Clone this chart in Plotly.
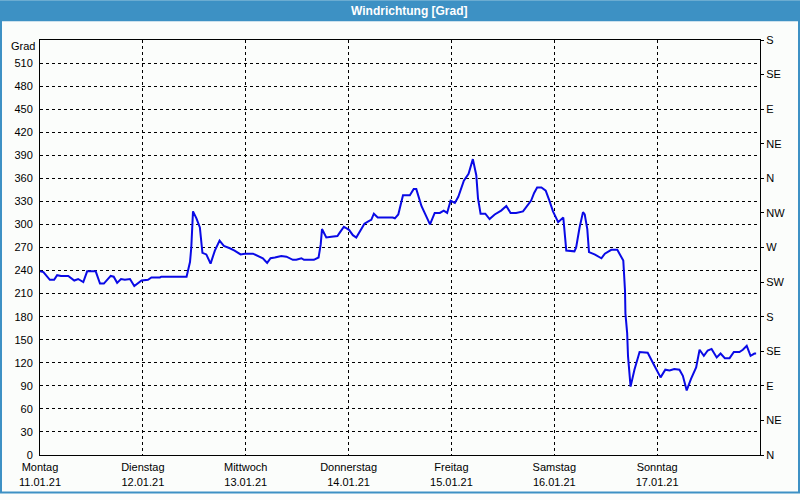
import plotly.graph_objects as go

# ---- data -------------------------------------------------------------
hours = [0, 0.8, 2.3, 3.3, 4.0, 4.9, 5.8, 6.6, 8.0, 8.9, 10.1, 11.0, 11.9, 13.0, 14.0, 14.9,
         16.5, 17.2, 18.0, 18.9, 19.8, 21.0, 22.0, 23.7, 25.2, 26.0, 28.0, 28.3, 34.2, 35.0,
         35.3, 35.7, 36.5, 37.3, 37.9, 38.8, 39.8, 40.8, 41.9, 42.9, 44.3, 45.4, 46.8, 47.8,
         49.7, 50.7, 52.0, 53.0, 53.8, 54.8, 56.3, 57.5, 59.0, 59.8, 61.0, 61.6, 63.9, 65.0,
         65.5, 65.8, 66.8, 68.0, 69.4, 69.9, 70.9, 72.1, 73.0, 73.8, 74.6, 75.7, 76.9, 77.3,
         77.9, 78.8, 80.0, 82.3, 82.8, 83.6, 84.7, 86.3, 87.2, 87.8, 89.0, 90.2, 91.0, 92.1,
         93.3, 94.2, 95.0, 95.8, 96.8, 97.6, 98.9, 100.0, 101.0, 101.8, 102.2, 102.8, 103.9,
         104.9, 106.1, 107.6, 108.8, 109.8, 111.1, 112.7, 113.9, 114.6, 115.3, 116.0, 117.0,
         118.0, 118.8, 119.7, 120.9, 122.1, 122.8, 124.7, 125.1, 125.9, 126.7, 127.1, 127.7,
         128.1, 129.4, 131.0, 131.8, 133.3, 134.7, 135.7, 136.1, 136.5, 136.6, 137.0, 137.2,
         137.8, 138.7, 139.9, 141.8, 143.0, 143.9, 144.8, 145.9, 146.9, 148.0, 149.2, 150.0,
         150.9, 151.9, 153.1, 153.9, 154.9, 155.8, 156.7, 157.9, 158.8, 159.8, 160.9, 161.9,
         163.2, 164.0, 164.9, 165.8, 166.7, 167.1]

degrees = [239, 238, 228, 228, 234, 233, 233, 233, 227, 229, 225, 239, 239, 239, 223, 223,
           233, 232, 224, 229, 228, 229, 220, 227, 228, 231, 231, 232, 232, 251,
           270, 317, 308, 296, 263, 261, 249, 266, 279, 272, 269, 266, 261, 262,
           262, 259, 256, 250, 256, 257, 259, 258, 254, 254, 256, 254, 254, 257,
           274, 294, 283, 284, 285, 289, 297, 293, 286, 283, 291, 301, 305, 306,
           314, 309, 309, 309, 308, 313, 338, 338, 346, 346, 324, 309, 300, 315,
           315, 318, 315, 331, 328, 336, 357, 366, 385, 364, 334, 314, 314,
           307, 313, 318, 324, 315, 315, 317, 325, 331, 341, 348, 348,
           344, 332, 317, 303, 309, 266, 265, 270, 296, 316, 313, 294,
           264, 261, 256, 262, 267, 267, 257, 253, 214, 184, 159, 129,
           89, 111, 134, 133, 120, 111, 101, 111, 110, 112, 111, 103,
           84, 99, 114, 137, 129, 136, 138, 127, 132, 126, 126, 134,
           134, 137, 142, 129, 132, 132]

day_names = ["Montag", "Dienstag", "Mittwoch", "Donnerstag", "Freitag", "Samstag", "Sonntag", ""]
day_dates = ["11.01.21", "12.01.21", "13.01.21", "14.01.21", "15.01.21", "16.01.21", "17.01.21", ""]
day_hours = [0, 24, 48, 72, 96, 120, 144, 168]

grad_ticks = list(range(0, 511, 30))
compass_vals = list(range(0, 541, 45))
compass_labels = ["N", "NE", "E", "SE", "S", "SW", "W", "NW", "N", "NE", "E", "SE", "S"]

title_text = "Windrichtung [Grad]"
unit_text = "Grad"

# ---- figure -----------------------------------------------------------
W, H = 800, 500
L, R, T, B = 40, 40, 40, 39
PW, PH = W - L - R, H - T - B


def px(x):
    return (x - L) / PW


def py(y):
    return (H - B - y) / PH


FONT = "Liberation Sans"
BG = "#fbfdfb"
BLUE_BAR = "#3d91c4"

fig = go.Figure()
fig.add_trace(go.Scatter(x=hours, y=degrees, mode="lines",
                         line=dict(color="#0a0ae6", width=2),
                         showlegend=False, hoverinfo="x+y"))
fig.add_trace(go.Scatter(x=[0], y=[0], yaxis="y2", mode="lines",
                         line=dict(width=0), showlegend=False, hoverinfo="skip"))

ticktext = [f"{n}<br>{d}" if n else "" for n, d in zip(day_names, day_dates)]

fig.update_layout(
    width=W, height=H,
    margin=dict(l=L, r=R, t=T, b=B, pad=0),
    paper_bgcolor=BG, plot_bgcolor=BG,
    font=dict(family=FONT, size=11, color="black"),
    xaxis=dict(range=[0, 168], tickmode="array", tickvals=day_hours, ticktext=ticktext,
               showgrid=True, gridcolor="black", gridwidth=1, griddash="3px,3px",
               showline=True, linecolor="black", linewidth=1, mirror=True,
               ticks="", zeroline=False, ticklabelstandoff=2,
               tickfont=dict(family=FONT, size=11)),
    yaxis=dict(range=[0, 540], tickmode="array", tickvals=grad_ticks,
               showgrid=True, gridcolor="black", gridwidth=1, griddash="3px,3px",
               showline=True, linecolor="black", linewidth=1, mirror=True,
               ticks="", zeroline=False, ticklabelstandoff=4,
               tickfont=dict(family=FONT, size=11)),
    yaxis2=dict(range=[0, 540], overlaying="y", side="right", tickmode="array",
                tickvals=compass_vals, ticktext=compass_labels,
                showgrid=False, zeroline=False, showline=False,
                ticks="outside", ticklen=3, tickcolor="black", tickwidth=1,
                ticklabelstandoff=0,
                tickfont=dict(family=FONT, size=11)),
    shapes=[
        dict(type="rect", xref="paper", yref="paper", layer="below",
             x0=px(0), x1=px(W), y0=py(21), y1=py(0),
             fillcolor=BLUE_BAR, line=dict(width=0)),
        dict(type="rect", xref="paper", yref="paper", layer="above",
             x0=px(1), x1=px(W - 1), y0=py(H - 1), y1=py(1),
             fillcolor="rgba(0,0,0,0)", line=dict(color=BLUE_BAR, width=2)),
    ],
    annotations=[
        dict(text=f"<b>{title_text}</b>", xref="paper", yref="paper",
             x=px(410), y=py(10.5), showarrow=False, xanchor="center", yanchor="middle",
             font=dict(family=FONT, size=12, color="white")),
        dict(text=unit_text, xref="paper", yref="paper",
             x=px(37), y=py(46), showarrow=False, xanchor="right", yanchor="middle",
             font=dict(family=FONT, size=11, color="black")),
    ],
)

fig.write_html(
    "out.html",
    post_script="document.body.style.margin='0';document.body.style.overflow='hidden';",
)
